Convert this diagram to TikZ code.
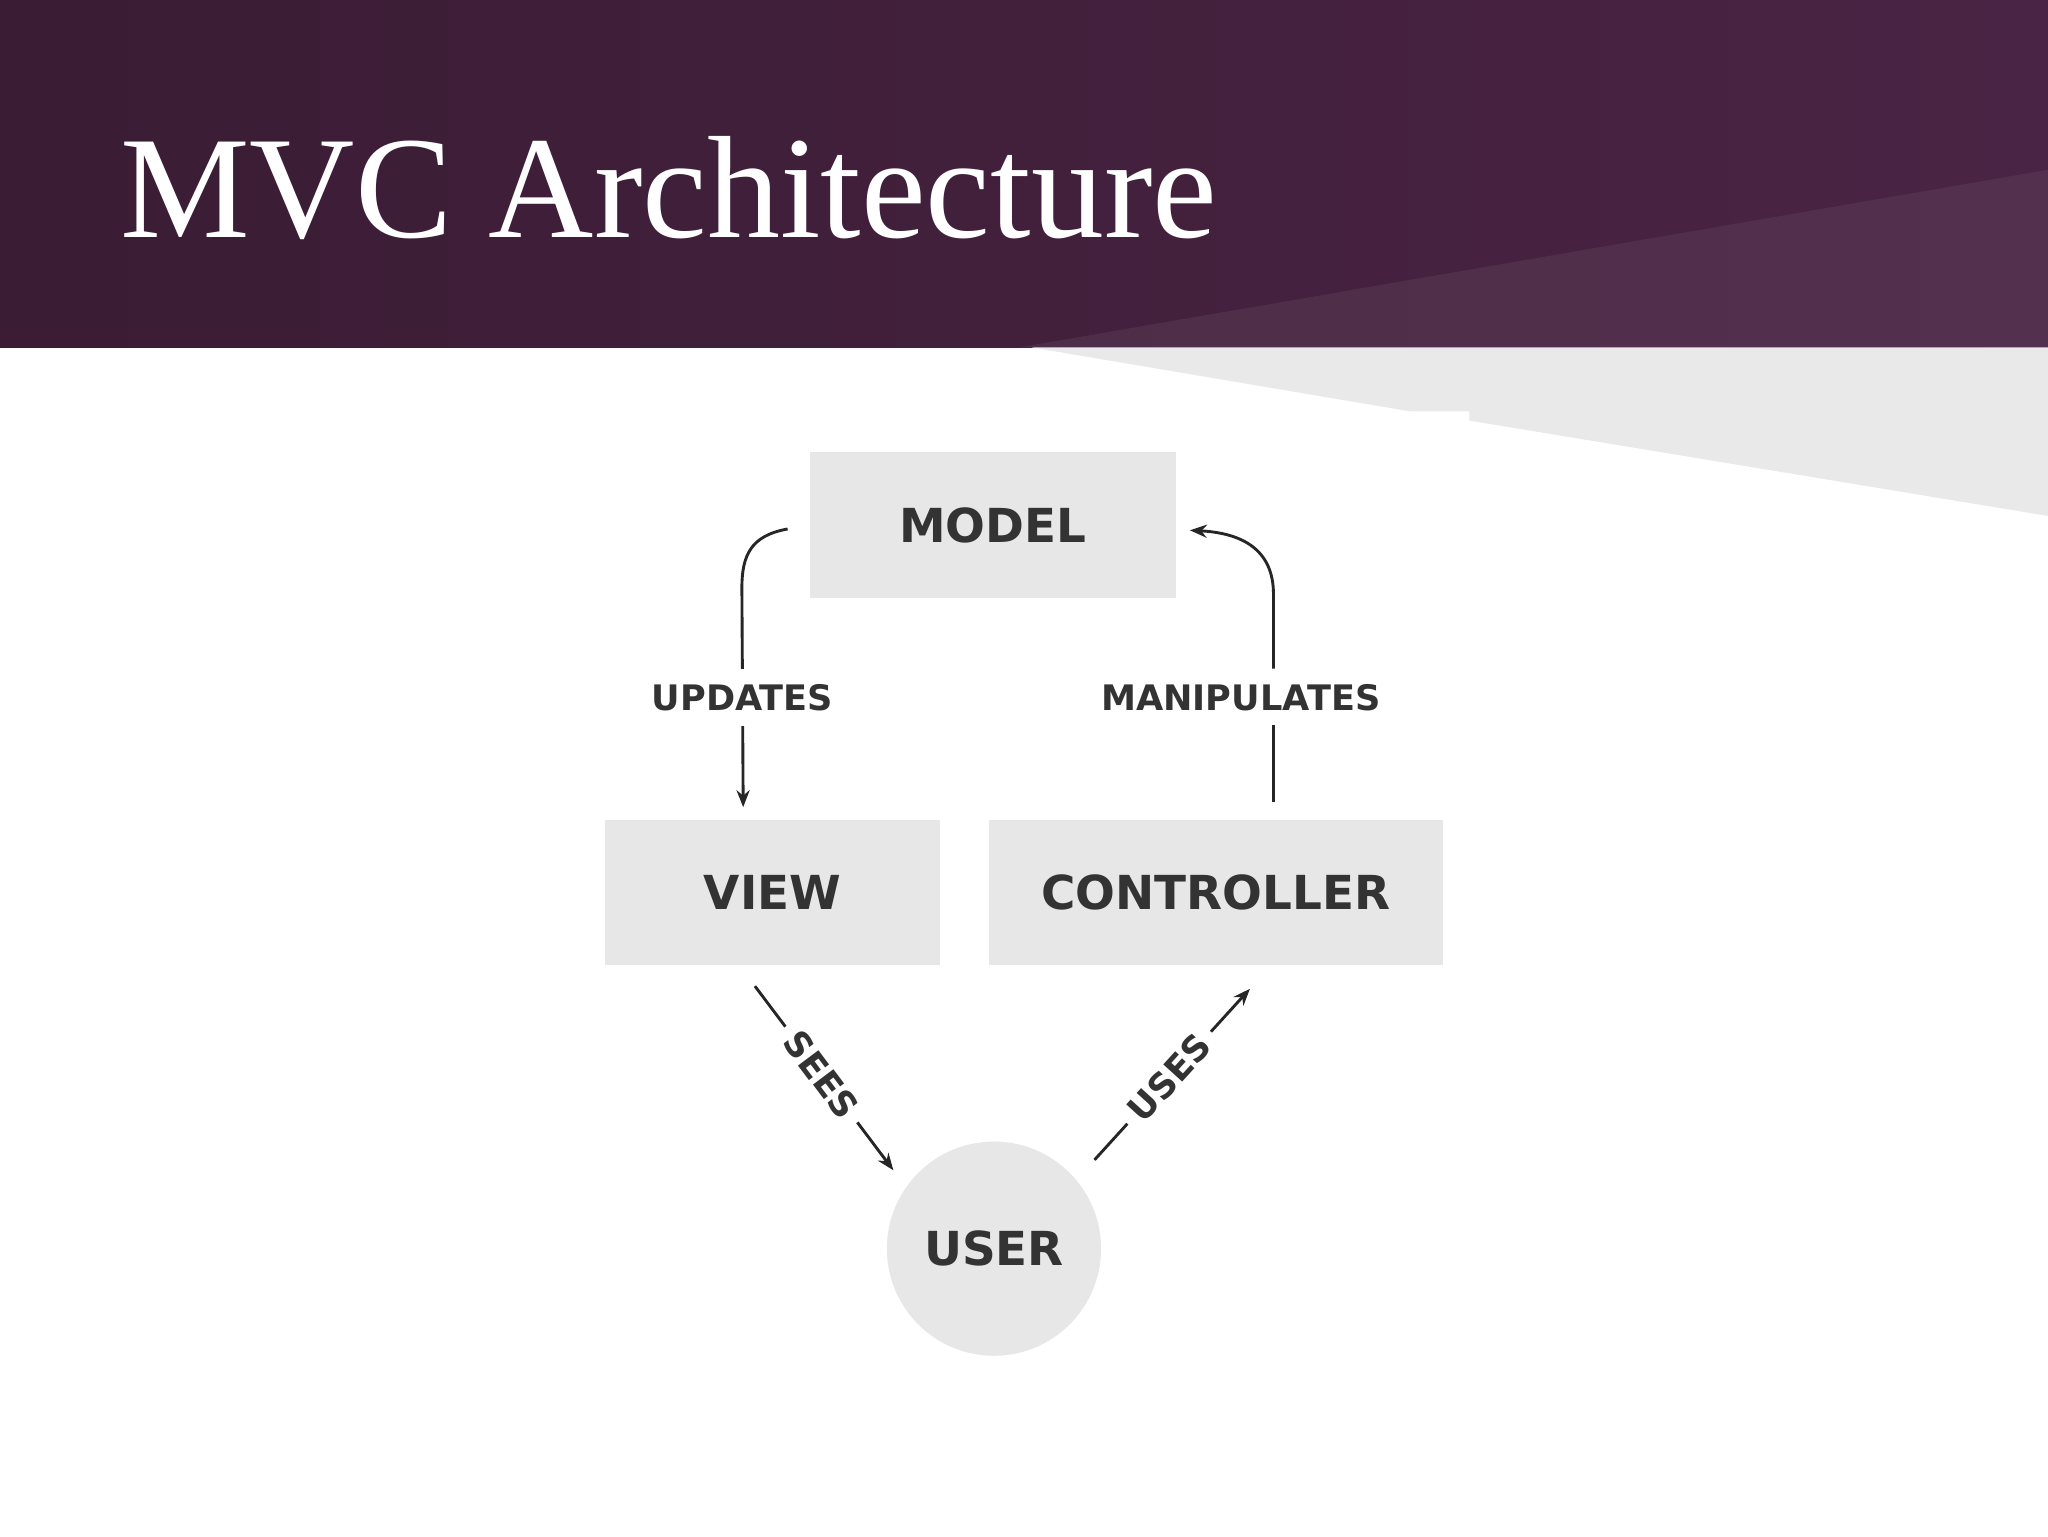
\documentclass[tikz,border=0pt]{standalone}
\usepackage{fontspec}
\setmainfont{Liberation Serif}
\newfontfamily\lblfont{DejaVu Sans}
\usetikzlibrary{arrows.meta}
\definecolor{boxgray}{HTML}{E8E7E8}
\definecolor{txtgray}{HTML}{333333}
\definecolor{purpA}{HTML}{3A1C34}
\definecolor{purpB}{HTML}{4A2444}
\tikzset{
  box/.style={fill=boxgray, draw=none, text=txtgray, font=\lblfont\bfseries\fontsize{36}{36}\selectfont},
  lbl/.style={fill=white, text=txtgray, inner sep=5bp, font=\lblfont\bfseries\fontsize{27}{27}\selectfont},
  conn/.style={line width=2.2bp, draw=black!85},
  arr/.style={conn, -{Stealth[length=13bp,width=10bp]}}
}
\begin{document}
\begin{tikzpicture}[x=1bp,y=-1bp]
\useasboundingbox (0,0) rectangle (1568,1176);
\fill[white] (0,0) rectangle (1568,1176);
\shade[left color=purpA, right color=purpB] (0,0) rectangle (1568,266);
\fill[white,opacity=0.06] (780,266) -- (1568,130) -- (1568,266) -- cycle;
\fill[boxgray!90] (790,266) -- (1568,266) -- (1568,395) -- (1125,322) -- (1125,315) -- (1080,315) -- cycle;
\node[anchor=base west, text=white, font=\fontsize{112}{112}\selectfont, inner sep=0] (title) at (92,182) {MVC Architecture};

\node[box, minimum width=280bp, minimum height=112bp] (model) at (760,402) {MODEL};
\node[box, minimum width=257bp, minimum height=111bp] (view) at (591.5,683.5) {VIEW};
\node[box, minimum width=348bp, minimum height=111bp] (ctrl) at (931,683.5) {CONTROLLER};
\node[box, circle, minimum size=164bp, inner sep=0] (user) at (761,956) {USER};

\coordinate (u1) at (603,405);
\coordinate (u2) at (569,618);
\draw[arr] (u1) .. controls (575,410) and (568,425) .. (568,450) -- node[lbl,pos=0.5,inner xsep=1bp,inner ysep=12bp] {UPDATES} (u2);

\node[lbl] (manip) at (950,534) {MANIPULATES};
\coordinate (m1) at (975,614);
\coordinate (m2) at (911,406);
\coordinate (m3) at (975,555);
\coordinate (m4) at (975,512);
\draw[conn] (m1) -- (m3);
\draw[arr] (m4) -- (975,455) .. controls (975,420) and (950,408) .. (m2);

\coordinate (s1) at (578,755);
\coordinate (s2) at (684,896);
\draw[arr] (s1) -- node[lbl,sloped,inner xsep=8bp,inner ysep=0bp,pos=0.48] {SEES} (s2);
\coordinate (c1) at (957,757);
\coordinate (c2) at (838,888);
\draw[arr] (c2) -- node[lbl,sloped,inner xsep=8bp,inner ysep=0bp,pos=0.48] {USES} (c1);
\end{tikzpicture}
\end{document}
